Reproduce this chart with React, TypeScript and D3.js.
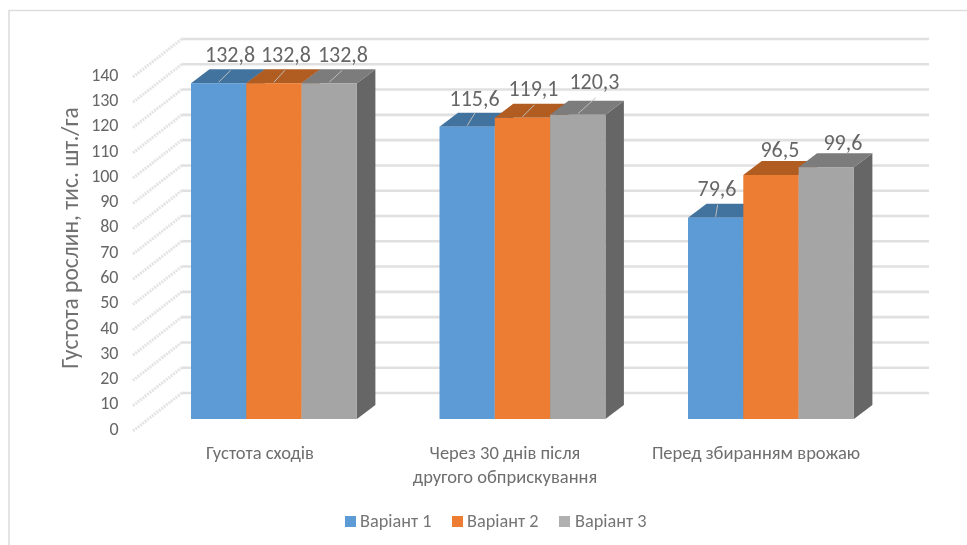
import React from "react";
import * as d3 from "d3";

const categories = ["Густота сходів", "Через 30 днів після|другого обприскування", "Перед збиранням врожаю"];
const categoryCenters = [260, 505, 756];
const seriesNames = ["Варіант 1", "Варіант 2", "Варіант 3"];
const variant1 = [132.8, 115.6, 79.6];
const variant2 = [132.8, 119.1, 96.5];
const variant3 = [132.8, 120.3, 99.6];
const seriesValues = [variant1, variant2, variant3];
const valueTicks = d3.range(0, 150, 10);
const frontColors = ["#5b9bd5", "#ed7d31", "#a5a5a5"];
const topColors = ["#43739f", "#b15d23", "#7b7b7b"];
const sideColors = ["#365e82", "#8f4b1c", "#666666"];
const legendSwatches = ["#5b9bd5", "#ed7d31", "#b0b0b0"];
const legendRectX = [345, 452, 559];
const legendTextX = [360, 467, 575];
// label offsets relative to each bar's top-centre, per category then series
const labelShiftX = [[11.4, 12, 13.7], [7.4, 11, 16.7], [1.4, 9, 16.7]];
const labelRise = [[21, 21, 21], [21, 21.7, 25.6], [21.6, 18, 17]];
// leader lines, [run, rise]; null = no leader
const leaders: ([number, number] | null)[][] = [
  [[12, 12], [11, 12], [13, 12]],
  [[8, 13], [12, 12], [18, 16]],
  [[2, 12], null, null],
];
const textColor = "#666666";
const font = "Carlito, Calibri, 'Open Sans', sans-serif";

const WIDTH = 967;
const HEIGHT = 545;
const barW = 55.3;
const dx = 18.5;
const dy = 14;
const y = d3.scaleLinear().domain([0, 140]).range([419, 65]);
const wallY = d3.scaleLinear().domain([0, 140]).range([393, 39]);
const labelY = d3.scaleLinear().domain([0, 140]).range([429, 75]);
const groupX = d3.scaleLinear().domain([0, 2]).range([191, 688]);

export default function App() {
  return (
    <svg
      width={WIDTH}
      height={HEIGHT}
      viewBox={`0 0 ${WIDTH} ${HEIGHT}`}
      style={{ position: "absolute", left: 0, top: 0, background: "#fff", fontFamily: font }}
    >
      <defs>
        <filter id="soft" x="-5%" y="-5%" width="110%" height="110%">
          <feGaussianBlur stdDeviation="0.5" />
        </filter>
        <filter id="softText" x="-5%" y="-5%" width="110%" height="110%">
          <feGaussianBlur stdDeviation="0.3" />
        </filter>
      </defs>

      <path d="M9 545V10.5H967" fill="none" stroke="#dedede" strokeWidth={1.6} />

      <g filter="url(#soft)">
        {valueTicks.map((t) => (
          <g key={t}>
            <line x1={182} x2={929} y1={wallY(t)} y2={wallY(t)} stroke="#e0e0e0" strokeWidth={2.6} />
            <line x1={133} x2={183} y1={labelY(t) + 2} y2={wallY(t) - 1} stroke="#e4e4e4" strokeWidth={3} strokeDasharray="2 1" />
          </g>
        ))}

        {categories.map((_, ci) =>
          seriesValues.map((vals, si) => {
            const x0 = groupX(ci) + si * barW;
            const x1 = x0 + barW;
            const yt = y(vals[ci]);
            const yb = y(0);
            return (
              <g key={`${ci}-${si}`}>
                <path d={`M${x1} ${yt}L${x1 + dx} ${yt - dy}V${yb - dy}L${x1} ${yb}Z`} fill={sideColors[si]} />
                <path d={`M${x0} ${yt}L${x0 + dx} ${yt - dy}H${x1 + dx}L${x1} ${yt}Z`} fill={topColors[si]} />
                <rect x={x0} y={yt} width={barW} height={yb - yt} fill={frontColors[si]} />
              </g>
            );
          })
        )}

        {categories.map((_, ci) =>
          seriesValues.map((vals, si) => {
            const leader = leaders[ci][si];
            if (!leader) return null;
            const cx = groupX(ci) + si * barW + barW / 2;
            const yt = y(vals[ci]);
            return (
              <line
                key={`l${ci}-${si}`}
                x1={cx}
                y1={yt - 1}
                x2={cx + leader[0]}
                y2={yt - 1 - leader[1]}
                stroke="#bdbdbd"
                strokeWidth={1}
              />
            );
          })
        )}
      </g>

      <g filter="url(#softText)" fill={textColor}>
        {valueTicks.map((t) => (
          <text key={t} x={118.5} y={labelY(t)} dy="0.32em" textAnchor="end" fontSize={18}>
            {t}
          </text>
        ))}

        <text transform="translate(78,238) rotate(-90)" textAnchor="middle" fontSize={23.5} fill="#707070">
          Густота рослин, тис. шт./га
        </text>

        {categories.map((cat, ci) =>
          cat.split("|").map((line, li) => (
            <text key={line} x={categoryCenters[ci]} y={459 + li * 24} textAnchor="middle" fontSize={18.5} fill="#6e6e6e">
              {line}
            </text>
          ))
        )}

        {categories.map((_, ci) =>
          seriesValues.map((vals, si) => {
            const cx = groupX(ci) + si * barW + barW / 2;
            return (
              <text
                key={`d${ci}-${si}`}
                x={cx + labelShiftX[ci][si]}
                y={y(vals[ci]) - labelRise[ci][si]}
                textAnchor="middle"
                fontSize={22}
              >
                {String(vals[ci]).replace(".", ",")}
              </text>
            );
          })
        )}

        {seriesNames.map((name, si) => (
          <g key={name}>
            <rect x={legendRectX[si]} y={516} width={11} height={11} fill={legendSwatches[si]} />
            <text x={legendTextX[si]} y={527} fontSize={18.3} fill="#757575">
              {name}
            </text>
          </g>
        ))}
      </g>
    </svg>
  );
}
